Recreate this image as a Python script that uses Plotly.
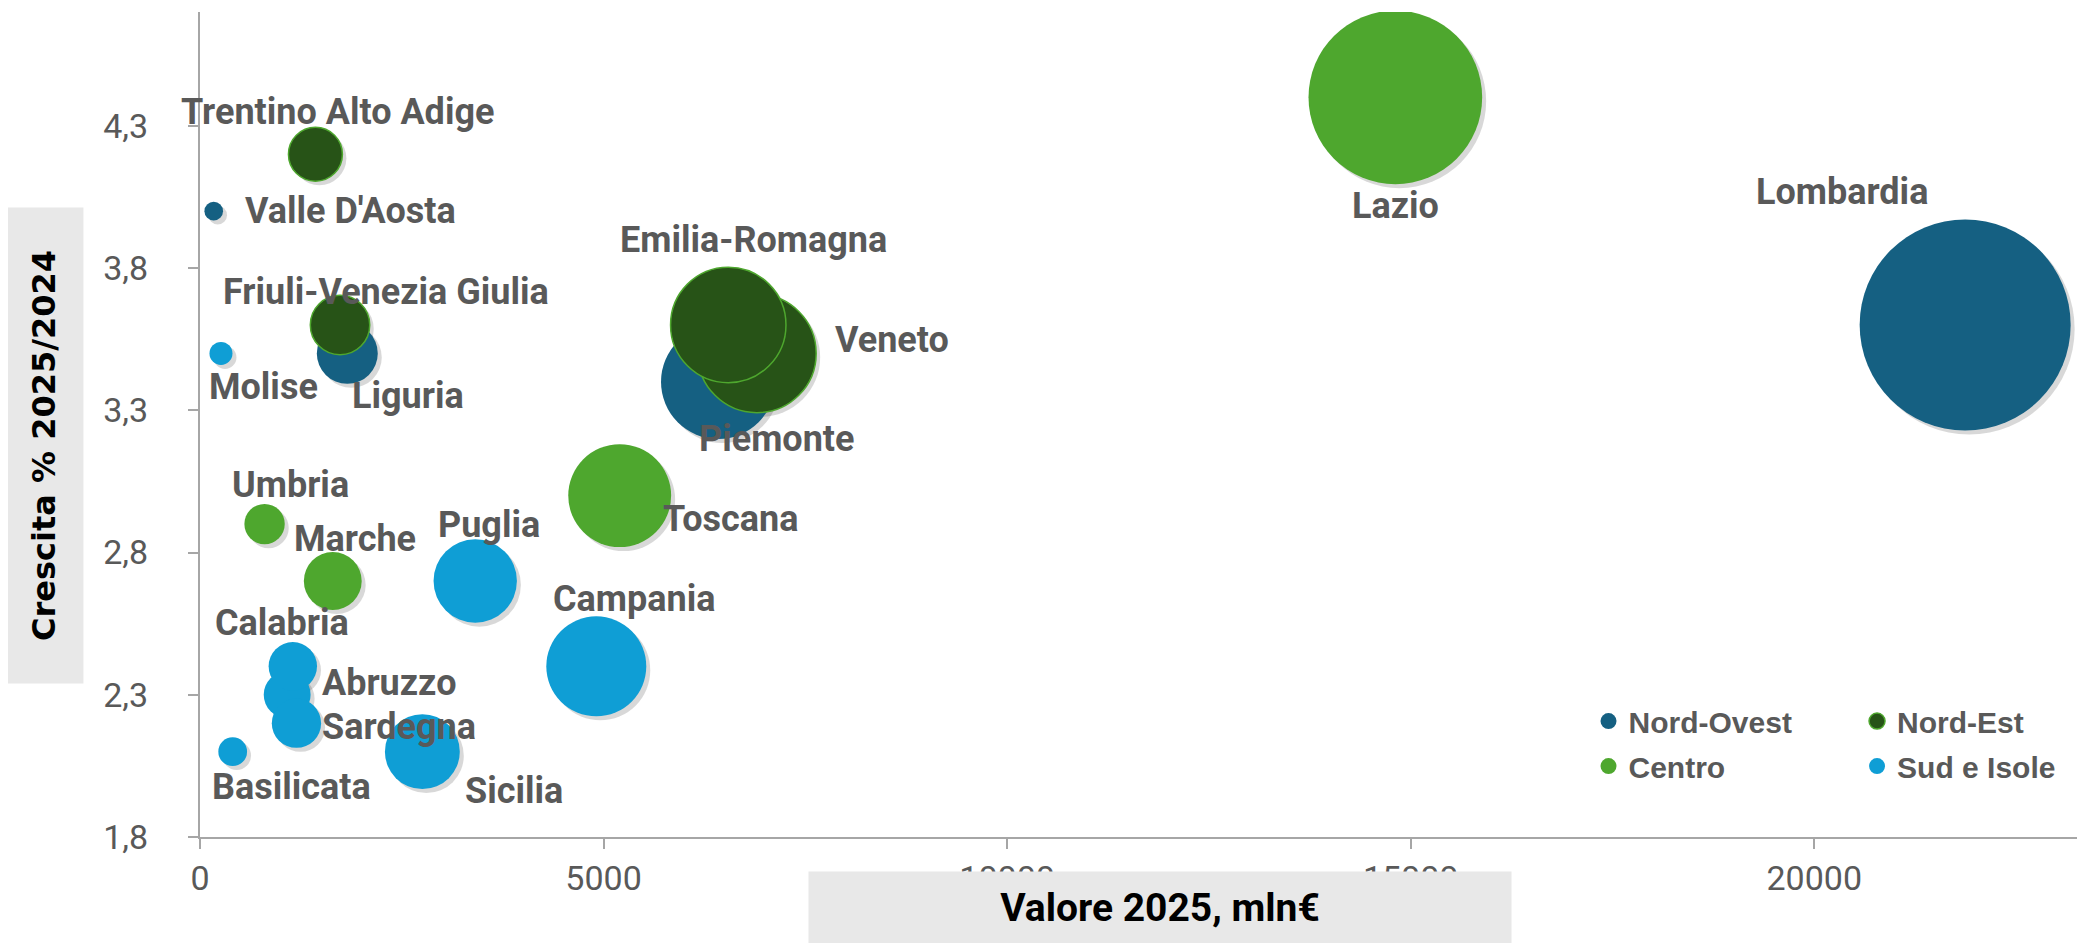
import plotly.graph_objects as go

# Dati per regione
regioni = ["Piemonte", "Valle D'Aosta", "Liguria", "Lombardia",
           "Trentino Alto Adige", "Veneto", "Friuli-Venezia Giulia", "Emilia-Romagna",
           "Toscana", "Umbria", "Marche", "Lazio",
           "Abruzzo", "Molise", "Campania", "Puglia", "Basilicata", "Calabria", "Sicilia", "Sardegna"]
macroarea = ["Nord-Ovest"] * 4 + ["Nord-Est"] * 4 + ["Centro"] * 4 + ["Sud e Isole"] * 8
valore_2025 = [6420, 170, 1825, 21870,
               1430, 6900, 1735, 6545,
               5200, 800, 1645, 14810,
               1080, 260, 4910, 3410, 405, 1150, 2755, 1195]
crescita = [3.4, 4.0, 3.5, 3.6,
            4.2, 3.5, 3.6, 3.6,
            3.0, 2.9, 2.7, 4.4,
            2.3, 3.5, 2.4, 2.7, 2.1, 2.4, 2.1, 2.2]

aree = ["Nord-Ovest", "Nord-Est", "Centro", "Sud e Isole"]
y_ticks = [1.8, 2.3, 2.8, 3.3, 3.8, 4.3]
x_ticks = [0, 5000, 10000, 15000, 20000]

colori = {"Nord-Ovest": "#156082", "Nord-Est": "#275317",
          "Centro": "#4EA72E", "Sud e Isole": "#0F9ED5"}
bordi = {"Nord-Ovest": 0, "Nord-Est": 1.5, "Centro": 0, "Sud e Isole": 0}
legenda = {"Nord-Ovest": "legend", "Nord-Est": "legend2",
           "Centro": "legend", "Sud e Isole": "legend2"}

# posizione etichette (px rispetto al centro della bolla): dx, dy, ancoraggio
etichette = {
    "Piemonte": (-21, 57, "left"), "Valle D'Aosta": (29, 0, "left"),
    "Liguria": (3, 43, "left"), "Lombardia": (-123, -133, "center"),
    "Trentino Alto Adige": (22, -42, "center"), "Veneto": (76, -13, "left"),
    "Friuli-Venezia Giulia": (46, -33, "center"), "Emilia-Romagna": (25, -85, "center"),
    "Toscana": (41, 23, "left"), "Umbria": (26, -39, "center"),
    "Marche": (22, -42, "center"), "Lazio": (0, 109, "center"),
    "Abruzzo": (33, -12, "left"), "Molise": (43, 34, "center"),
    "Campania": (38, -67, "center"), "Puglia": (14, -56, "center"),
    "Basilicata": (59, 35, "center"), "Calabria": (-11, -43, "center"),
    "Sicilia": (41, 39, "left"), "Sardegna": (24, 4, "left"),
}

# dimensioni della figura (la pagina aggiunge 8px di margine al corpo)
W, H = 2077, 935
M = dict(l=192, r=2, t=4, b=106)
x_range = [0, 23330]
y_range = [1.8, 4.7]
plot_w = W - M["l"] - M["r"]
plot_h = H - M["t"] - M["b"]

max_diam = 211
sizeref = 2.0 * max(valore_2025) / max_diam ** 2

# ombra: asse nascosto con range spostato di qualche pixel (in basso a destra)
shadow_dx, shadow_dy = 4, 4
sx = (x_range[1] - x_range[0]) / plot_w * shadow_dx
sy = (y_range[1] - y_range[0]) / plot_h * shadow_dy

fig = go.Figure()

for area in aree:
    idx = [i for i, m in enumerate(macroarea) if m == area]
    fig.add_trace(go.Scatter(
        x=[valore_2025[i] for i in idx],
        y=[crescita[i] for i in idx],
        xaxis="x", yaxis="y",
        mode="markers", showlegend=False, hoverinfo="skip",
        marker=dict(size=[valore_2025[i] for i in idx], sizemode="area", sizeref=sizeref,
                    sizemin=0, color="rgba(0,0,0,0.22)", line=dict(width=0)),
    ))

for area in aree:
    idx = [i for i, m in enumerate(macroarea) if m == area]
    fig.add_trace(go.Scatter(
        x=[valore_2025[i] for i in idx],
        y=[crescita[i] for i in idx],
        xaxis="x2", yaxis="y2",
        mode="markers", showlegend=False, hoverinfo="skip",
        marker=dict(size=[valore_2025[i] for i in idx], sizemode="area", sizeref=sizeref,
                    color=colori[area], opacity=1,
                    line=dict(width=bordi[area], color="#4EA72E")),
    ))

# voci di legenda
for area in aree:
    fig.add_trace(go.Scatter(
        x=[None], y=[None], xaxis="x2", yaxis="y2",
        mode="markers", name=area, legend=legenda[area], legendgroup=area,
        marker=dict(size=18, color=colori[area],
                    line=dict(width=bordi[area], color="#4EA72E")),
    ))

annotations = []
for i, r in enumerate(regioni):
    dx, dy, anc = etichette[r]
    annotations.append(dict(
        x=valore_2025[i], y=crescita[i], xref="x2", yref="y2", text=r, showarrow=False,
        xanchor=anc, yanchor="middle", xshift=dx, yshift=-dy,
        font=dict(family="Roboto", size=36, color="#595959", weight="bold"),
    ))

# titoli degli assi su riquadro grigio
annotations.append(dict(
    xref="paper", yref="paper", x=-0.0826, y=0.4745, text="Crescita % 2025/2024",
    textangle=-90, showarrow=False, xanchor="center", yanchor="middle",
    width=473, height=75, bgcolor="#E8E8E8",
    font=dict(family="DejaVu Sans", size=32, color="black", weight="bold"),
))
annotations.append(dict(
    xref="paper", yref="paper", x=0.5098, y=-0.086, text="Valore 2025, mln€",
    showarrow=False, xanchor="center", yanchor="middle",
    width=700, height=70, bgcolor="#E8E8E8",
    font=dict(family="Roboto", size=39, color="black", weight="bold"),
))

legend_font = dict(family="Liberation Sans", size=30, color="#595959", weight="bold")
tick_font = dict(family="Roboto", size=34, color="#595959")

fig.update_layout(
    width=W, height=H,
    margin=M,
    plot_bgcolor="white", paper_bgcolor="white",
    separators=",.",
    showlegend=True,
    annotations=annotations,
    legend=dict(x=0.7374, y=0.172, xanchor="left", yanchor="top", font=legend_font,
                bgcolor="rgba(0,0,0,0)", tracegroupgap=3),
    legend2=dict(x=0.88, y=0.172, xanchor="left", yanchor="top", font=legend_font,
                 bgcolor="rgba(0,0,0,0)", tracegroupgap=3),
    xaxis=dict(range=[x_range[0] - sx, x_range[1] - sx], visible=False, fixedrange=True),
    yaxis=dict(range=[y_range[0] + sy, y_range[1] + sy], visible=False, fixedrange=True),
    xaxis2=dict(range=x_range, overlaying="x", anchor="y2", side="bottom",
                tickvals=x_ticks, tickformat="d",
                showgrid=False, zeroline=False, showline=True, linecolor="#A6A6A6", linewidth=2,
                ticks="outside", ticklen=10, tickcolor="#A6A6A6", tickwidth=1.5,
                ticklabelstandoff=0, tickfont=tick_font),
    yaxis2=dict(range=y_range, overlaying="y", anchor="x2", side="left",
                tickvals=y_ticks, tickformat=".1f",
                showgrid=False, zeroline=False, showline=True, linecolor="#A6A6A6", linewidth=2,
                ticks="outside", ticklen=10, tickcolor="#A6A6A6", tickwidth=1.5,
                ticklabelstandoff=33, tickfont=tick_font),
)

fig.write_html("out.html")
